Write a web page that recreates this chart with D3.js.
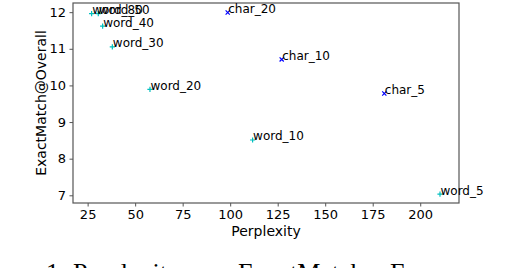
<!DOCTYPE html>
<html><head><meta charset="utf-8">
<script src="https://cdn.jsdelivr.net/npm/d3@7"></script>
<style>body{margin:0;background:#fff}svg{display:block}</style>
</head><body>
<svg id="c" width="516" height="268"></svg>
<script>
const wordLabels = ["word_80","word_50","word_40","word_30","word_20","word_10","word_5"];
const wordPerplexity = [27.1, 30.6, 32.9, 38.0, 57.8, 111.8, 210.4];
const wordEM = [11.96, 11.96, 11.62, 11.05, 9.89, 8.51, 7.03];
const charLabels = ["char_20","char_10","char_5"];
const charPerplexity = [98.7, 127.1, 181.1];
const charEM = [11.99, 10.71, 9.78];
const xTicks = [25,50,75,100,125,150,175,200];
const yTicks = [7,8,9,10,11,12];
const captionWords = ["1:","Perplexity","vs.","ExactMatch","For"];

const svg = d3.select("#c");
const L=73, R=459, T=3, B=203;
const x = d3.scaleLinear().domain([17.3, 220.4]).range([L, R]);
const y = d3.scaleLinear().domain([6.79, 12.25]).range([B, T]);
const font = "DejaVu Sans, sans-serif";
const axisColor = "#555";

const gx = svg.append("g").attr("transform",`translate(0,${B})`)
  .call(d3.axisBottom(x).tickValues(xTicks).tickFormat(d3.format("d")).tickSize(3.5).tickPadding(3.5).tickSizeOuter(0));
const gy = svg.append("g").attr("transform",`translate(${L},0)`)
  .call(d3.axisLeft(y).tickValues(yTicks).tickFormat(d3.format("d")).tickSize(3.5).tickPadding(3.5).tickSizeOuter(0));
[gx,gy].forEach(g=>{
  g.select(".domain").remove();
  g.selectAll("line").attr("stroke",axisColor).attr("stroke-width",1);
  g.selectAll("text").attr("font-family",font).attr("font-size",13).attr("fill","#000");
});
svg.append("rect").attr("x",L).attr("y",T).attr("width",R-L).attr("height",B-T)
  .attr("fill","none").attr("stroke",axisColor).attr("stroke-width",1.2);

svg.append("text").attr("x",(L+R)/2).attr("y",236).attr("text-anchor","middle")
  .attr("font-family",font).attr("font-size",14).text("Perplexity");
svg.append("text").attr("transform",`translate(46,${(T+B)/2}) rotate(-90)`)
  .attr("text-anchor","middle").attr("font-family",font).attr("font-size",14).text("ExactMatch@Overall");

const s = 2.6;
const words = wordLabels.map((l,i)=>({l, px:wordPerplexity[i], em:wordEM[i]}));
const chars = charLabels.map((l,i)=>({l, px:charPerplexity[i], em:charEM[i]}));

const wg = svg.append("g");
words.forEach(d=>{
  const cx=x(d.px), cy=y(d.em);
  wg.append("path").attr("d",`M${cx-s},${cy}H${cx+s}M${cx},${cy-s}V${cy+s}`)
    .attr("stroke","#00bfbf").attr("stroke-width",1.2).attr("fill","none");
});
chars.forEach(d=>{
  const cx=x(d.px), cy=y(d.em);
  wg.append("path").attr("d",`M${cx-s*0.8},${cy-s*0.8}L${cx+s*0.8},${cy+s*0.8}M${cx-s*0.8},${cy+s*0.8}L${cx+s*0.8},${cy-s*0.8}`)
    .attr("stroke","#0000ff").attr("stroke-width",1.2).attr("fill","none");
});
words.concat(chars).forEach(d=>{
  svg.append("text").attr("x",x(d.px)+0.5).attr("y",y(d.em)+0.5)
    .attr("font-family",font).attr("font-size",12).attr("fill","#000").text(d.l);
});

const capX = [46,73,193,238,390];
const cap = svg.append("text").attr("y",281).attr("font-family","Liberation Serif, Times New Roman, serif")
  .attr("font-size",26).attr("fill","#000");
captionWords.forEach((w,i)=>cap.append("tspan").attr("x",capX[i]).text(w));
</script>
</body></html>
